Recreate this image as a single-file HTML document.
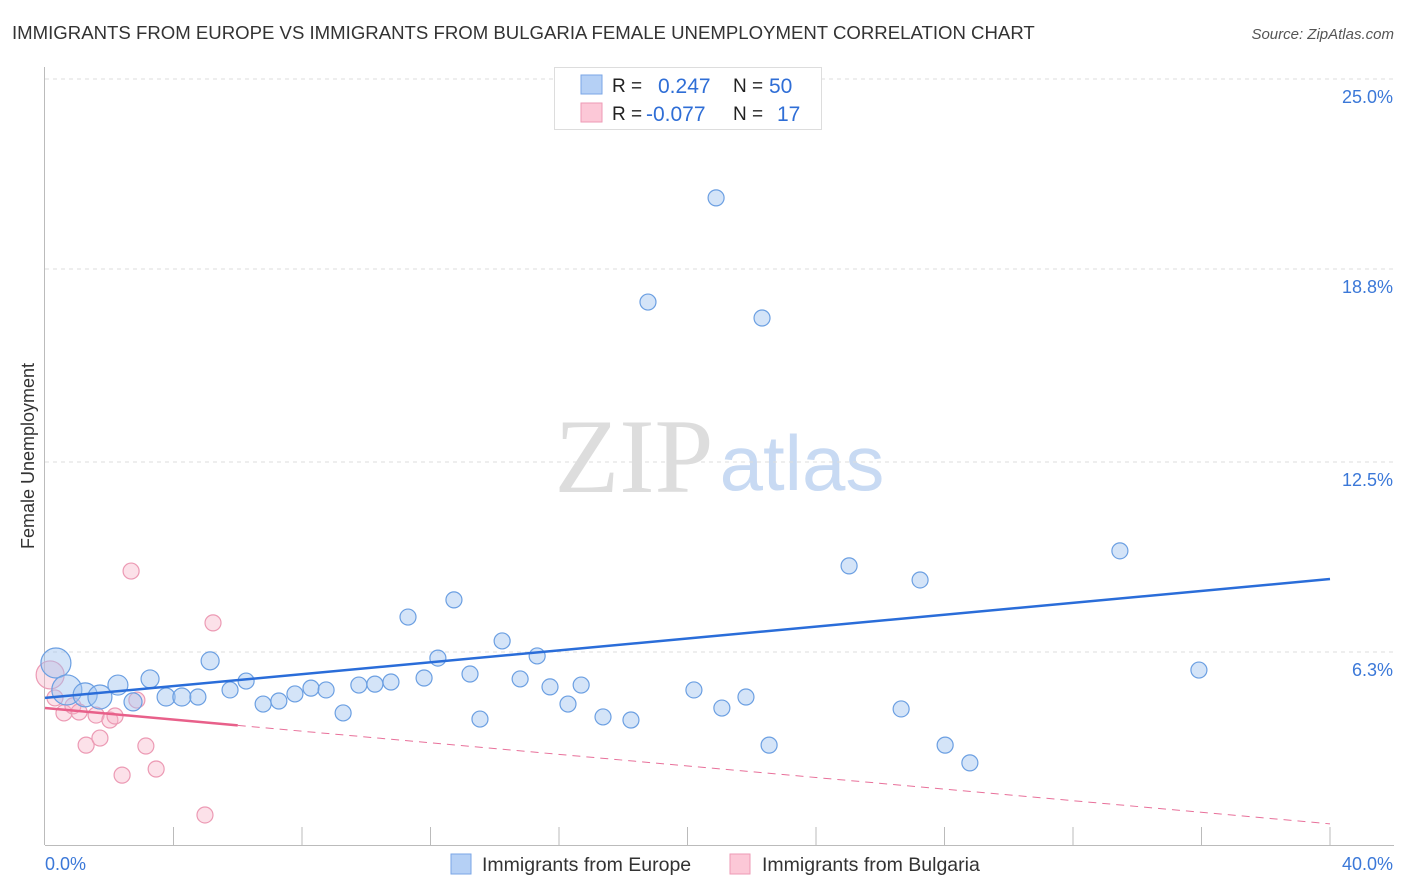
<!DOCTYPE html>
<html><head><meta charset="utf-8"><style>
body{margin:0;background:#fff;font-family:"Liberation Sans",sans-serif;}
#wrap{position:relative;width:1406px;height:892px;overflow:hidden;}
</style></head><body>
<div id="wrap">
<svg id="svg" width="1406" height="892" xmlns="http://www.w3.org/2000/svg">
<text x="12" y="39" font-size="18.6" fill="#333">IMMIGRANTS FROM EUROPE VS IMMIGRANTS FROM BULGARIA FEMALE UNEMPLOYMENT CORRELATION CHART</text>
<text x="1394" y="39" font-size="15" fill="#555" font-style="italic" text-anchor="end">Source: ZipAtlas.com</text>
<text x="34" y="456" font-size="18" fill="#333" transform="rotate(-90 34 456)" text-anchor="middle">Female Unemployment</text>
<g>
<text x="634" y="492" font-size="106" fill="#ddd" font-family="Liberation Serif,serif" text-anchor="middle">ZIP</text>
<text x="802" y="490" font-size="78" fill="#c8daf3" text-anchor="middle">atlas</text>
</g>
<g id="grid"></g>
<g id="axes"></g>
<g id="marks"></g>
<g>
<rect x="554.5" y="67.5" width="267" height="62" fill="#fff" stroke="#ddd"/>
<rect x="581" y="75" width="21" height="19" fill="#b5d0f5" stroke="#7aa6e6"/>
<rect x="581" y="103" width="21" height="19" fill="#fcc8d7" stroke="#ee9ab5"/>
<text x="612" y="92" font-size="19" fill="#222">R = </text><text x="658" y="93" font-size="21" fill="#2f6ed6">0.247</text>
<text x="733" y="92" font-size="19" fill="#222">N = </text><text x="769" y="93" font-size="21" fill="#2f6ed6">50</text>
<text x="612" y="120" font-size="19" fill="#222">R = </text><text x="646" y="121" font-size="21" fill="#2f6ed6">-0.077</text>
<text x="733" y="120" font-size="19" fill="#222">N = </text><text x="777" y="121" font-size="21" fill="#2f6ed6">17</text>
</g>
<g>
<rect x="451" y="854" width="20" height="20" fill="#b5d0f5" stroke="#7aa6e6"/>
<text x="482" y="871" font-size="19.5" fill="#333">Immigrants from Europe</text>
<rect x="730" y="854" width="20" height="20" fill="#fcc8d7" stroke="#ee9ab5"/>
<text x="762" y="871" font-size="19.5" fill="#333">Immigrants from Bulgaria</text>
</g>
</svg>
</div>
<script>
const yTicks=[6.3,12.5,18.8,25.0];
const yTickLabels=["6.3%","12.5%","18.8%","25.0%"];
const xTickVals=[4,8,12,16,20,24,28,32,36,40];
const europeX=[0.34,0.68,1.25,1.71,2.27,3.27,2.74,3.77,4.26,4.76,5.14,5.76,6.26,6.79,7.28,7.78,8.28,8.75,9.28,9.77,10.27,10.77,11.30,11.80,12.23,12.73,13.23,13.54,14.23,14.79,15.32,15.72,16.28,16.69,17.37,18.24,18.77,20.20,20.89,21.07,21.82,22.32,22.54,25.03,26.65,27.24,28.02,28.79,33.46,35.92];
const europeY=[5.94,5.06,4.90,4.83,5.22,5.42,4.67,4.83,4.83,4.83,6.01,5.06,5.35,4.60,4.70,4.93,5.12,5.06,4.31,5.22,5.25,5.32,7.44,5.45,6.10,8.00,5.58,4.11,6.66,5.42,6.17,5.16,4.60,5.22,4.18,4.08,17.72,5.06,21.12,4.47,4.83,17.20,3.26,9.11,4.44,8.65,3.26,2.68,9.60,5.71];
const europeSize=[15,15,12,12,10,9,9,9,9,8,9,8,8,8,8,8,8,8,8,8,8,8,8,8,8,8,8,8,8,8,8,8,8,8,8,8,8,8,8,8,8,8,8,8,8,8,8,8,8,8];
const bulgariaX=[0.16,0.31,0.59,0.87,1.06,1.28,1.59,1.71,2.02,2.18,2.40,2.68,2.86,3.14,3.46,4.98,5.23];
const bulgariaY=[5.55,4.80,4.31,4.54,4.34,3.26,4.24,3.49,4.08,4.21,2.28,8.94,4.73,3.23,2.48,0.98,7.25];
const bulgariaSize=[14,8,8,8,8,8,8,8,8,8,8,8,8,8,8,8,8];
const europeTrend=[4.80,8.68];
const bulgariaTrend=[4.47,0.69];
const bulgariaSolidEnd=6;

const NS="http://www.w3.org/2000/svg";
const X=v=>45+v*32.125, Y=v=>845-v*30.64;
function mk(t,a,p){const e=document.createElementNS(NS,t);for(const k in a)e.setAttribute(k,a[k]);p.appendChild(e);return e;}
const grid=document.getElementById('grid'),axes=document.getElementById('axes'),marks=document.getElementById('marks');
yTicks.forEach((v,i)=>{
 const l=mk('line',{x1:45,x2:1394,y1:Y(v),y2:Y(v),stroke:'#ddd','stroke-dasharray':'4,4'},grid);
 
 
 const t=mk('text',{x:1393,y:Y(v)+24,'font-size':18,fill:'#3b78d8','text-anchor':'end'},axes);t.textContent=yTickLabels[i];
 
 
});
const ya=mk('line',{x1:44.5,x2:44.5,y1:67,y2:845,stroke:'#bbb'},axes);


const xa=mk('line',{x1:45,x2:1394,y1:845.5,y2:845.5,stroke:'#bbb'},axes);


xTickVals.forEach(v=>{const l=mk('line',{x1:X(v),x2:X(v),y1:827,y2:845,stroke:'#bbb'},axes);
 
 });
const t0=mk('text',{x:45,y:870,'font-size':18,fill:'#3b78d8'},axes);t0.textContent='0.0%';


const t1=mk('text',{x:1393,y:870,'font-size':18,fill:'#3b78d8','text-anchor':'end'},axes);t1.textContent='40.0%';


bulgariaX.forEach((x,i)=>{const c=mk('circle',{cx:X(x),cy:Y(bulgariaY[i]),r:bulgariaSize[i],fill:'rgba(248,180,200,0.4)',stroke:'#ec9ab4','stroke-width':1.2},marks);
 
 });
europeX.forEach((x,i)=>{const c=mk('circle',{cx:X(x),cy:Y(europeY[i]),r:europeSize[i],fill:'rgba(160,196,240,0.45)',stroke:'#6b9fe2','stroke-width':1.2},marks);
 
 });
const bt=v=>bulgariaTrend[0]+(bulgariaTrend[1]-bulgariaTrend[0])*v/40;
const bd=mk('line',{x1:X(bulgariaSolidEnd),y1:Y(bt(bulgariaSolidEnd)),x2:X(40),y2:Y(bt(40)),stroke:'#e8709a','stroke-width':1,'stroke-dasharray':'8,6'},marks);


const bs=mk('line',{x1:X(0),y1:Y(bt(0)),x2:X(bulgariaSolidEnd),y2:Y(bt(bulgariaSolidEnd)),stroke:'#e8608a','stroke-width':2.5},marks);


const et=mk('line',{x1:X(0),y1:Y(europeTrend[0]),x2:X(40),y2:Y(europeTrend[1]),stroke:'#2a6dd9','stroke-width':2.5},marks);


</script>
</body></html>
